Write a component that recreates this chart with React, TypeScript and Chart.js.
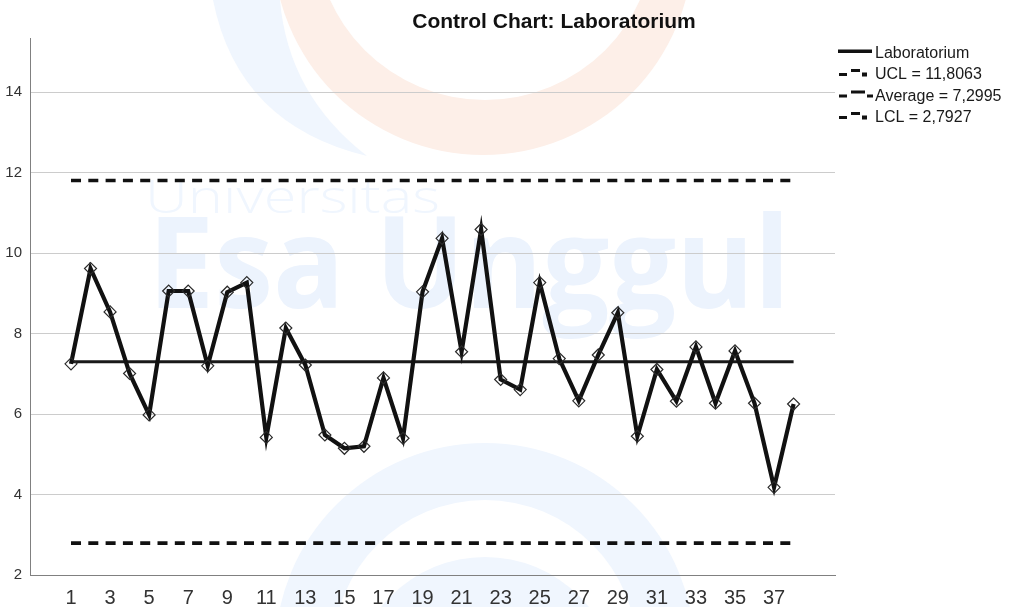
import React, { useEffect, useRef } from "react";
import { Chart, registerables } from "chart.js";

Chart.register(...registerables);

// ---------- data ----------
const subgroups: number[] = [
  1, 2, 3, 4, 5, 6, 7, 8, 9, 10, 11, 12, 13, 14, 15, 16, 17, 18, 19,
  20, 21, 22, 23, 24, 25, 26, 27, 28, 29, 30, 31, 32, 33, 34, 35, 36, 37, 38,
];
const labValues: number[] = [
  7.25, 9.62, 8.54, 7.01, 5.98, 9.06, 9.06, 7.2, 9.03, 9.27,
  5.42, 8.14, 7.22, 5.48, 5.15, 5.2, 6.9, 5.4, 9.04, 10.37,
  7.55, 10.59, 6.86, 6.61, 9.27, 7.38, 6.33, 7.47, 8.52, 5.45,
  7.11, 6.32, 7.67, 6.27, 7.57, 6.27, 4.18, 6.25,
];
const uclValue = 11.8063;
const averageValue = 7.2995;
const lclValue = 2.7927;
const xTickValues: number[] = [1, 3, 5, 7, 9, 11, 13, 15, 17, 19, 21, 23, 25, 27, 29, 31, 33, 35, 37];
const yTickValues: number[] = [2, 4, 6, 8, 10, 12, 14];
const legendLabels: string[] = ["Laboratorium", "UCL = 11,8063", "Average = 7,2995", "LCL = 2,7927"];
const chartTitle = "Control Chart: Laboratorium";
const watermarkSmall = "Universitas";
const watermarkBig = "Esa Unggul";

const FONT = '"Liberation Sans", Arial, sans-serif';

function drawWatermark(ctx: CanvasRenderingContext2D, w: number, h: number) {
  ctx.save();
  ctx.fillStyle = "#ffffff";
  ctx.fillRect(0, 0, w, h);

  // orange ring (top)
  ctx.beginPath();
  ctx.arc(483, -55, 210, 0, Math.PI * 2);
  ctx.arc(485, -70, 170, 0, Math.PI * 2, true);
  ctx.fillStyle = "#fdefe8";
  ctx.fill("evenodd");

  // blue crescent (top left)
  ctx.beginPath();
  ctx.moveTo(213, 0);
  ctx.quadraticCurveTo(238, 125, 367, 156);
  ctx.quadraticCurveTo(288, 95, 280, 0);
  ctx.closePath();
  ctx.fillStyle = "#f0f6fe";
  ctx.fill();

  // blue ring (bottom)
  ctx.beginPath();
  ctx.arc(485, 653, 210, 0, Math.PI * 2);
  ctx.arc(485, 652, 152, 0, Math.PI * 2, true);
  ctx.fillStyle = "#f0f6fe";
  ctx.fill("evenodd");
  ctx.beginPath();
  ctx.arc(485, 690, 133, 0, Math.PI * 2);
  ctx.fill();

  // texts
  ctx.fillStyle = "#f0f6fe";
  ctx.textBaseline = "alphabetic";
  ctx.textAlign = "left";
  ctx.font = '300 46px "Open Sans", "Noto Sans", sans-serif';
  let m = ctx.measureText(watermarkSmall).width;
  ctx.save();
  ctx.translate(145, 213);
  ctx.scale(295 / m, 1);
  ctx.fillText(watermarkSmall, 0, 0);
  ctx.restore();

  ctx.fillStyle = "#ecf3fd";
  ctx.font = 'bold 128px "Open Sans", "Noto Sans", sans-serif';
  m = ctx.measureText(watermarkBig).width;
  ctx.save();
  ctx.translate(148, 308);
  ctx.scale(642 / m, 1);
  ctx.fillText(watermarkBig, 0, 0);
  ctx.restore();
  ctx.restore();
}

function drawLegend(ctx: CanvasRenderingContext2D) {
  ctx.save();
  const textX = 875;
  const firstBaseline = 57.5;
  const step = 21.5;
  ctx.font = `16px ${FONT}`;
  ctx.textAlign = "left";
  ctx.textBaseline = "alphabetic";
  legendLabels.forEach((label, i) => {
    const b = firstBaseline + i * step;
    const c = b - 6;
    ctx.fillStyle = "#111";
    if (i === 0) {
      ctx.fillRect(838, c - 2, 34, 3.5);
    } else if (i === 2) {
      ctx.fillRect(839, c, 8, 3);
      ctx.fillRect(851, c - 4, 14, 3);
      ctx.fillRect(867, c, 6, 3);
    } else {
      ctx.fillRect(839, c, 8, 3);
      ctx.fillRect(851, c - 4, 9, 3);
      ctx.fillRect(862, c - 0.5, 5, 4);
    }
    ctx.fillStyle = "#1a1a1a";
    ctx.fillText(label, textX, b);
  });
  ctx.restore();
}

const decorPlugin = {
  id: "decor",
  beforeDraw(chart: any) {
    drawWatermark(chart.ctx, chart.width, chart.height);
  },
  afterDraw(chart: any) {
    const ctx = chart.ctx as CanvasRenderingContext2D;
    ctx.save();
    ctx.font = `bold 21px ${FONT}`;
    ctx.fillStyle = "#111";
    ctx.textAlign = "center";
    ctx.textBaseline = "alphabetic";
    ctx.fillText(chartTitle, 554, 28);
    ctx.restore();
    drawLegend(ctx);
  },
};

export default function App() {
  const canvasRef = useRef<HTMLCanvasElement | null>(null);

  useEffect(() => {
    document.body.style.margin = "0";
    document.body.style.overflow = "hidden";
    const canvas = canvasRef.current;
    if (!canvas) return;

    const first = subgroups[0];
    const last = subgroups[subgroups.length - 1];
    const limitLine = (v: number) => [
      { x: first, y: v },
      { x: last, y: v },
    ];

    const chart = new Chart(canvas, {
      type: "line",
      data: {
        datasets: [
          {
            label: legendLabels[0],
            data: subgroups.map((s, i) => ({ x: s, y: labValues[i] })),
            borderColor: "#111111",
            borderWidth: 4.2,
            borderJoinStyle: "miter",
            tension: 0,
            pointStyle: "rectRot",
            pointRadius: 6,
            pointBorderColor: "#2a2a2a",
            pointBorderWidth: 1.2,
            pointBackgroundColor: "rgba(255,255,255,0)",
          },
          {
            label: legendLabels[1],
            data: limitLine(uclValue),
            borderColor: "#111111",
            borderWidth: 3.6,
            borderDash: [10, 7.3],
            pointRadius: 0,
          },
          {
            label: legendLabels[2],
            data: limitLine(averageValue),
            borderColor: "#1a1a1a",
            borderWidth: 3,
            pointRadius: 0,
          },
          {
            label: legendLabels[3],
            data: limitLine(lclValue),
            borderColor: "#111111",
            borderWidth: 3.6,
            borderDash: [10, 7.3],
            pointRadius: 0,
          },
        ],
      },
      options: {
        animation: false,
        responsive: false,
        maintainAspectRatio: false,
        layout: { padding: { top: 38, right: 181, left: 0, bottom: 0 } },
        plugins: {
          legend: { display: false },
          title: { display: false },
          tooltip: { enabled: false },
        },
        scales: {
          x: {
            type: "linear",
            min: -1.1,
            max: 40.12,
            afterBuildTicks: (scale: any) => {
              scale.ticks = xTickValues.map((v) => ({ value: v }));
            },
            afterFit: (scale: any) => {
              scale.height = 32;
            },
            grid: { display: false },
            border: { display: true, color: "#808080", width: 1 },
            ticks: {
              autoSkip: false,
              maxRotation: 0,
              padding: 3,
              color: "#333333",
              font: { family: FONT, size: 20 },
              callback: (v: any) => String(v),
            },
          },
          y: {
            type: "linear",
            min: 2,
            max: 15.35,
            afterBuildTicks: (scale: any) => {
              scale.ticks = yTickValues.map((v) => ({ value: v }));
            },
            afterFit: (scale: any) => {
              scale.width = 30;
            },
            grid: { color: "#cccccc", lineWidth: 1, drawTicks: false },
            border: { display: true, color: "#808080", width: 1 },
            ticks: {
              padding: 8,
              color: "#333333",
              font: { family: FONT, size: 15 },
              callback: (v: any) => String(v),
            },
          },
        },
      },
      plugins: [decorPlugin],
    } as any);

    return () => chart.destroy();
  }, []);

  return (
    <div style={{ width: 1016, height: 607 }}>
      <canvas ref={canvasRef} width={1016} height={607} style={{ display: "block" }} />
    </div>
  );
}
